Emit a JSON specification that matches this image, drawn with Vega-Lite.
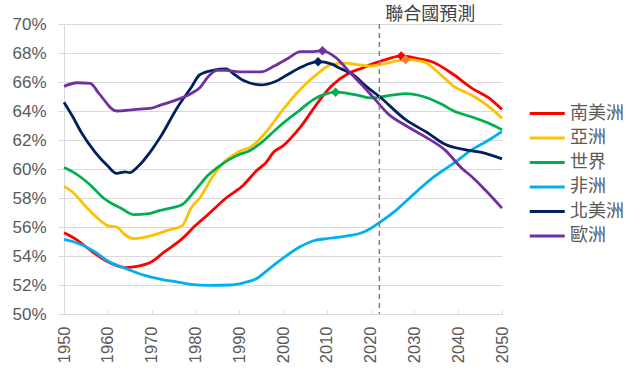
{
  "$schema": "https://vega.github.io/schema/vega-lite/v6.json",
  "width": 438,
  "height": 290,
  "autosize": "none",
  "padding": {"left": 64, "top": 24, "right": 142, "bottom": 57},
  "background": "white",
  "config": {
    "view": {"stroke": null},
    "axis": {"labelFont": "Liberation Sans", "labelColor": "#595959", "labelFontSize": 17, "domainColor": "#d9d9d9", "tickColor": "#d9d9d9", "gridColor": "#d9d9d9", "title": null, "labelOverlap": false}
  },
  "resolve": {"axis": {"y": "independent"}},
  "datasets": {
    "series": [
      {"year": 1950, "region": "南美洲", "value": 0.556},
      {"year": 1953, "region": "南美洲", "value": 0.551},
      {"year": 1956, "region": "南美洲", "value": 0.544},
      {"year": 1960, "region": "南美洲", "value": 0.536},
      {"year": 1964, "region": "南美洲", "value": 0.532},
      {"year": 1967, "region": "南美洲", "value": 0.533},
      {"year": 1970, "region": "南美洲", "value": 0.536},
      {"year": 1973, "region": "南美洲", "value": 0.543},
      {"year": 1977, "region": "南美洲", "value": 0.552},
      {"year": 1980, "region": "南美洲", "value": 0.561},
      {"year": 1983, "region": "南美洲", "value": 0.569},
      {"year": 1987, "region": "南美洲", "value": 0.580},
      {"year": 1991, "region": "南美洲", "value": 0.589},
      {"year": 1994, "region": "南美洲", "value": 0.599},
      {"year": 1996, "region": "南美洲", "value": 0.604},
      {"year": 1998, "region": "南美洲", "value": 0.612},
      {"year": 2000, "region": "南美洲", "value": 0.616},
      {"year": 2004, "region": "南美洲", "value": 0.629},
      {"year": 2008, "region": "南美洲", "value": 0.646},
      {"year": 2011, "region": "南美洲", "value": 0.657},
      {"year": 2015, "region": "南美洲", "value": 0.666},
      {"year": 2018, "region": "南美洲", "value": 0.6695},
      {"year": 2020, "region": "南美洲", "value": 0.672},
      {"year": 2024, "region": "南美洲", "value": 0.676},
      {"year": 2027, "region": "南美洲", "value": 0.678},
      {"year": 2031, "region": "南美洲", "value": 0.676},
      {"year": 2034, "region": "南美洲", "value": 0.674},
      {"year": 2039, "region": "南美洲", "value": 0.665},
      {"year": 2043, "region": "南美洲", "value": 0.656},
      {"year": 2047, "region": "南美洲", "value": 0.649},
      {"year": 2050, "region": "南美洲", "value": 0.641},

      {"year": 1950, "region": "亞洲", "value": 0.588},
      {"year": 1952, "region": "亞洲", "value": 0.584},
      {"year": 1955, "region": "亞洲", "value": 0.574},
      {"year": 1957, "region": "亞洲", "value": 0.568},
      {"year": 1960, "region": "亞洲", "value": 0.561},
      {"year": 1962, "region": "亞洲", "value": 0.560},
      {"year": 1964, "region": "亞洲", "value": 0.5545},
      {"year": 1966, "region": "亞洲", "value": 0.552},
      {"year": 1970, "region": "亞洲", "value": 0.554},
      {"year": 1974, "region": "亞洲", "value": 0.558},
      {"year": 1977, "region": "亞洲", "value": 0.561},
      {"year": 1979, "region": "亞洲", "value": 0.573},
      {"year": 1981, "region": "亞洲", "value": 0.580},
      {"year": 1984, "region": "亞洲", "value": 0.595},
      {"year": 1987, "region": "亞洲", "value": 0.606},
      {"year": 1990, "region": "亞洲", "value": 0.612},
      {"year": 1993, "region": "亞洲", "value": 0.616},
      {"year": 1996, "region": "亞洲", "value": 0.625},
      {"year": 2000, "region": "亞洲", "value": 0.641},
      {"year": 2004, "region": "亞洲", "value": 0.655},
      {"year": 2008, "region": "亞洲", "value": 0.666},
      {"year": 2011, "region": "亞洲", "value": 0.672},
      {"year": 2014, "region": "亞洲", "value": 0.673},
      {"year": 2017, "region": "亞洲", "value": 0.672},
      {"year": 2020, "region": "亞洲", "value": 0.671},
      {"year": 2023, "region": "亞洲", "value": 0.6725},
      {"year": 2028, "region": "亞洲", "value": 0.6755},
      {"year": 2032, "region": "亞洲", "value": 0.674},
      {"year": 2036, "region": "亞洲", "value": 0.665},
      {"year": 2039, "region": "亞洲", "value": 0.657},
      {"year": 2043, "region": "亞洲", "value": 0.651},
      {"year": 2047, "region": "亞洲", "value": 0.643},
      {"year": 2050, "region": "亞洲", "value": 0.635},

      {"year": 1950, "region": "世界", "value": 0.601},
      {"year": 1952, "region": "世界", "value": 0.598},
      {"year": 1956, "region": "世界", "value": 0.589},
      {"year": 1959, "region": "世界", "value": 0.580},
      {"year": 1961, "region": "世界", "value": 0.576},
      {"year": 1963, "region": "世界", "value": 0.573},
      {"year": 1966, "region": "世界", "value": 0.5685},
      {"year": 1969, "region": "世界", "value": 0.569},
      {"year": 1972, "region": "世界", "value": 0.5715},
      {"year": 1975, "region": "世界", "value": 0.5735},
      {"year": 1977, "region": "世界", "value": 0.5755},
      {"year": 1980, "region": "世界", "value": 0.5855},
      {"year": 1983, "region": "世界", "value": 0.596},
      {"year": 1985, "region": "世界", "value": 0.601},
      {"year": 1988, "region": "世界", "value": 0.607},
      {"year": 1990, "region": "世界", "value": 0.610},
      {"year": 1992, "region": "世界", "value": 0.612},
      {"year": 1995, "region": "世界", "value": 0.618},
      {"year": 1999, "region": "世界", "value": 0.629},
      {"year": 2004, "region": "世界", "value": 0.641},
      {"year": 2007, "region": "世界", "value": 0.648},
      {"year": 2010, "region": "世界", "value": 0.652},
      {"year": 2012, "region": "世界", "value": 0.653},
      {"year": 2015, "region": "世界", "value": 0.652},
      {"year": 2017, "region": "世界", "value": 0.651},
      {"year": 2020, "region": "世界", "value": 0.649},
      {"year": 2023, "region": "世界", "value": 0.650},
      {"year": 2028, "region": "世界", "value": 0.652},
      {"year": 2032, "region": "世界", "value": 0.650},
      {"year": 2036, "region": "世界", "value": 0.645},
      {"year": 2039, "region": "世界", "value": 0.640},
      {"year": 2043, "region": "世界", "value": 0.636},
      {"year": 2047, "region": "世界", "value": 0.6315},
      {"year": 2050, "region": "世界", "value": 0.627},

      {"year": 1950, "region": "非洲", "value": 0.5515},
      {"year": 1952, "region": "非洲", "value": 0.550},
      {"year": 1957, "region": "非洲", "value": 0.543},
      {"year": 1960, "region": "非洲", "value": 0.5365},
      {"year": 1964, "region": "非洲", "value": 0.5315},
      {"year": 1968, "region": "非洲", "value": 0.527},
      {"year": 1972, "region": "非洲", "value": 0.524},
      {"year": 1976, "region": "非洲", "value": 0.522},
      {"year": 1979, "region": "非洲", "value": 0.5205},
      {"year": 1983, "region": "非洲", "value": 0.5198},
      {"year": 1988, "region": "非洲", "value": 0.520},
      {"year": 1991, "region": "非洲", "value": 0.5215},
      {"year": 1994, "region": "非洲", "value": 0.5245},
      {"year": 1997, "region": "非洲", "value": 0.5315},
      {"year": 2000, "region": "非洲", "value": 0.5385},
      {"year": 2004, "region": "非洲", "value": 0.5465},
      {"year": 2007, "region": "非洲", "value": 0.5505},
      {"year": 2010, "region": "非洲", "value": 0.552},
      {"year": 2013, "region": "非洲", "value": 0.553},
      {"year": 2015, "region": "非洲", "value": 0.554},
      {"year": 2018, "region": "非洲", "value": 0.556},
      {"year": 2020, "region": "非洲", "value": 0.559},
      {"year": 2022, "region": "非洲", "value": 0.563},
      {"year": 2025, "region": "非洲", "value": 0.5695},
      {"year": 2030, "region": "非洲", "value": 0.583},
      {"year": 2034, "region": "非洲", "value": 0.5935},
      {"year": 2039, "region": "非洲", "value": 0.604},
      {"year": 2043, "region": "非洲", "value": 0.613},
      {"year": 2047, "region": "非洲", "value": 0.620},
      {"year": 2050, "region": "非洲", "value": 0.626},

      {"year": 1950, "region": "北美洲", "value": 0.646},
      {"year": 1952, "region": "北美洲", "value": 0.636},
      {"year": 1954, "region": "北美洲", "value": 0.625},
      {"year": 1957, "region": "北美洲", "value": 0.612},
      {"year": 1960, "region": "北美洲", "value": 0.602},
      {"year": 1962, "region": "北美洲", "value": 0.597},
      {"year": 1964, "region": "北美洲", "value": 0.598},
      {"year": 1965, "region": "北美洲", "value": 0.5975},
      {"year": 1967, "region": "北美洲", "value": 0.602},
      {"year": 1970, "region": "北美洲", "value": 0.613},
      {"year": 1972, "region": "北美洲", "value": 0.622},
      {"year": 1976, "region": "北美洲", "value": 0.643},
      {"year": 1979, "region": "北美洲", "value": 0.656},
      {"year": 1981, "region": "北美洲", "value": 0.665},
      {"year": 1984, "region": "北美洲", "value": 0.668},
      {"year": 1987, "region": "北美洲", "value": 0.669},
      {"year": 1989, "region": "北美洲", "value": 0.665},
      {"year": 1991, "region": "北美洲", "value": 0.661},
      {"year": 1995, "region": "北美洲", "value": 0.658},
      {"year": 1998, "region": "北美洲", "value": 0.660},
      {"year": 2001, "region": "北美洲", "value": 0.665},
      {"year": 2004, "region": "北美洲", "value": 0.670},
      {"year": 2008, "region": "北美洲", "value": 0.674},
      {"year": 2011, "region": "北美洲", "value": 0.6725},
      {"year": 2013, "region": "北美洲", "value": 0.6695},
      {"year": 2016, "region": "北美洲", "value": 0.665},
      {"year": 2019, "region": "北美洲", "value": 0.657},
      {"year": 2022, "region": "北美洲", "value": 0.650},
      {"year": 2028, "region": "北美洲", "value": 0.634},
      {"year": 2033, "region": "北美洲", "value": 0.625},
      {"year": 2037, "region": "北美洲", "value": 0.617},
      {"year": 2042, "region": "北美洲", "value": 0.613},
      {"year": 2046, "region": "北美洲", "value": 0.611},
      {"year": 2050, "region": "北美洲", "value": 0.607},

      {"year": 1950, "region": "歐洲", "value": 0.657},
      {"year": 1953, "region": "歐洲", "value": 0.6595},
      {"year": 1956, "region": "歐洲", "value": 0.659},
      {"year": 1958, "region": "歐洲", "value": 0.652},
      {"year": 1962, "region": "歐洲", "value": 0.640},
      {"year": 1966, "region": "歐洲", "value": 0.641},
      {"year": 1970, "region": "歐洲", "value": 0.642},
      {"year": 1972, "region": "歐洲", "value": 0.644},
      {"year": 1976, "region": "歐洲", "value": 0.648},
      {"year": 1979, "region": "歐洲", "value": 0.652},
      {"year": 1981, "region": "歐洲", "value": 0.656},
      {"year": 1983, "region": "歐洲", "value": 0.664},
      {"year": 1985, "region": "歐洲", "value": 0.668},
      {"year": 1987, "region": "歐洲", "value": 0.668},
      {"year": 1990, "region": "歐洲", "value": 0.667},
      {"year": 1995, "region": "歐洲", "value": 0.667},
      {"year": 1998, "region": "歐洲", "value": 0.671},
      {"year": 2001, "region": "歐洲", "value": 0.676},
      {"year": 2004, "region": "歐洲", "value": 0.681},
      {"year": 2007, "region": "歐洲", "value": 0.681},
      {"year": 2009, "region": "歐洲", "value": 0.6815},
      {"year": 2012, "region": "歐洲", "value": 0.677},
      {"year": 2015, "region": "歐洲", "value": 0.6675},
      {"year": 2018, "region": "歐洲", "value": 0.658},
      {"year": 2021, "region": "歐洲", "value": 0.648},
      {"year": 2024, "region": "歐洲", "value": 0.638},
      {"year": 2028, "region": "歐洲", "value": 0.630},
      {"year": 2032, "region": "歐洲", "value": 0.623},
      {"year": 2037, "region": "歐洲", "value": 0.613},
      {"year": 2041, "region": "歐洲", "value": 0.600},
      {"year": 2043, "region": "歐洲", "value": 0.595},
      {"year": 2046, "region": "歐洲", "value": 0.586},
      {"year": 2050, "region": "歐洲", "value": 0.573}
    ],
    "peaks": [
      {"year": 2009, "value": 0.6815, "mc": "#7030A0"},
      {"year": 2008, "value": 0.674, "mc": "#002060"},
      {"year": 2012, "value": 0.653, "mc": "#00B050"},
      {"year": 2027, "value": 0.678, "mc": "#FF0000"},
      {"year": 2028, "value": 0.6755, "mc": "#ED7D31"}
    ],
    "forecast": [{"year": 2022, "label": "聯合國預測"}]
  },
  "layer": [
    {
      "data": {"name": "series"},
      "mark": {"type": "line", "strokeWidth": 2.8, "interpolate": "monotone"},
      "encoding": {
        "x": {"field": "year", "type": "quantitative",
          "scale": {"domain": [1950, 2050], "nice": false, "zero": false},
          "axis": {"values": [1950,1955,1960,1965,1970,1975,1980,1985,1990,1995,2000,2005,2010,2015,2020,2025,2030,2035,2040,2045,2050],
            "labelExpr": "datum.value % 10 === 0 ? datum.label : ''", "format": "d",
            "labelAngle": -90, "labelFontSize": 16.5, "tickSize": -4, "labelPadding": 16, "grid": false, "labelFlush": false, "labelOverlap": false}},
        "y": {"field": "value", "type": "quantitative",
          "scale": {"domain": [0.5, 0.7], "nice": false, "zero": false},
          "axis": {"orient": "left", "values": [0.5,0.52,0.54,0.56,0.58,0.6,0.62,0.64,0.66,0.68,0.7], "format": ".0%", "tickSize": 6, "labelPadding": 12, "grid": true, "labelFontSize": 17, "labelOverlap": false, "labelFlush": false}},
        "color": {"field": "region", "type": "nominal",
          "scale": {"domain": ["南美洲", "亞洲", "世界", "非洲", "北美洲", "歐洲"], "range": ["#FF0000", "#FFC000", "#00B050", "#00B0F0", "#002060", "#7030A0"]},
          "legend": {"orient": "none", "legendX": 464, "legendY": 79, "title": null, "symbolType": "M-1,0H3", "symbolSize": 306, "symbolStrokeWidth": 3, "labelFontSize": 18, "labelFont": "Noto Sans CJK TC", "labelColor": "#595959", "labelOffset": 21, "rowPadding": 4.5}},
        "order": {"field": "year", "type": "quantitative"}
      }
    },
    {
      "data": {"name": "forecast"},
      "mark": {"type": "rule", "color": "#7f7f7f", "strokeDash": [5, 4], "strokeWidth": 1.5},
      "encoding": {"x": {"field": "year", "type": "quantitative"}}
    },
    {
      "data": {"name": "forecast"},
      "mark": {"type": "text", "dx": 51, "fontSize": 18, "font": "Noto Sans CJK TC", "color": "#404040", "baseline": "middle", "align": "center"},
      "encoding": {
        "x": {"field": "year", "type": "quantitative"},
        "y": {"datum": 0.7065, "type": "quantitative", "axis": null},
        "text": {"field": "label"}
      }
    },
    {
      "data": {"name": "peaks"},
      "mark": {"type": "point", "shape": "diamond", "filled": true, "opacity": 1, "size": 90},
      "encoding": {
        "x": {"field": "year", "type": "quantitative"},
        "y": {"field": "value", "type": "quantitative", "axis": null},
        "color": {"field": "mc", "type": "nominal", "scale": null, "legend": null}
      }
    }
  ]
}
